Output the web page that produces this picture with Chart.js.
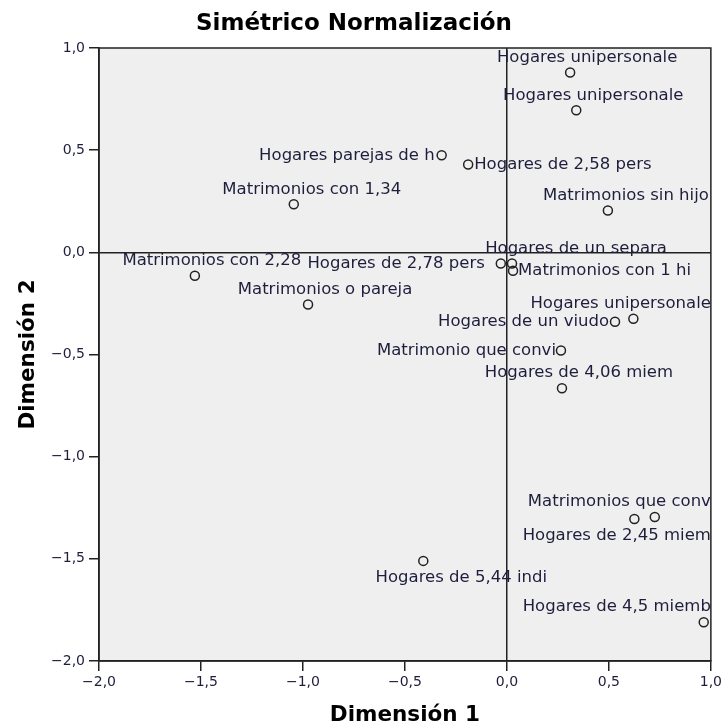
<!DOCTYPE html>
<html lang="es">
<head>
<meta charset="UTF-8">
<title>Simétrico Normalización</title>
<script src="https://cdn.jsdelivr.net/npm/chart.js"></script>
<style>
  body { margin: 0; background: #fff; }
  #wrap { width: 725px; height: 728px; }
</style>
</head>
<body>
<div id="wrap"><canvas id="grafico" width="725" height="728"></canvas></div>
<script>
// Etiquetas de las categorías (truncadas a 20 caracteres, como en el original)
const etiquetas = [
  'Hogares unipersonale', 'Hogares unipersonale', 'Hogares parejas de h', 'Hogares de 2,58 pers',
  'Matrimonios con 1,34', 'Matrimonios sin hijo', 'Hogares de un separa', 'Hogares de 2,78 pers',
  'Matrimonios con 1 hi', 'Matrimonios con 2,28', 'Matrimonios o pareja', 'Hogares unipersonale',
  'Hogares de un viudo', 'Matrimonio que convi', 'Hogares de 4,06 miem', 'Matrimonios que conv',
  'Hogares de 2,45 miem', 'Hogares de 5,44 indi', 'Hogares de 4,5 miemb'
];
const dimension1 = [0.31, 0.34, -0.32, -0.19, -1.045, 0.495, 0.025, -0.03, 0.03, -1.53, -0.975,
  0.62, 0.53, 0.265, 0.27, 0.725, 0.625, -0.41, 0.965];
const dimension2 = [0.88, 0.695, 0.475, 0.43, 0.235, 0.205, -0.055, -0.055, -0.09, -0.115, -0.255,
  -0.325, -0.34, -0.48, -0.665, -1.295, -1.305, -1.51, -1.81];
const ticksEjes = [-2, -1.5, -1, -0.5, 0, 0.5, 1];

// donde va cada etiqueta respecto a su punto (solo presentación)
const posEtiqueta = ['top', 'top', 'left', 'right', 'top', 'top', 'top', 'left', 'right', 'top', 'top',
  'top', 'left', 'left', 'top', 'top', 'bottom', 'bottom', 'top'];
const despEtiqueta = [17, 17, 7, 6, 18, 18, 64, 16, 5, 17, 17, 18, 6, 5, 17, 18, 18, 38, 18];

const colorTexto = '#1e1e3c';
const fuente = '"DejaVu Sans", sans-serif';

function formatoComa(v) {
  return v.toFixed(1).replace('.', ',').replace('-', '\u2212');
}

const fondoYMarco = {
  id: 'fondoYMarco',
  beforeDraw(chart) {
    const a = chart.chartArea, ctx = chart.ctx;
    ctx.save();
    ctx.fillStyle = '#efefef';
    ctx.fillRect(a.left, a.top, a.right - a.left, a.bottom - a.top);
    ctx.restore();
  },
  afterDraw(chart) {
    const a = chart.chartArea, ctx = chart.ctx;
    ctx.save();
    ctx.strokeStyle = '#222';
    ctx.lineWidth = 1.5;
    ctx.strokeRect(a.left, a.top, a.right - a.left, a.bottom - a.top);
    // títulos
    ctx.fillStyle = '#000';
    ctx.textAlign = 'center';
    ctx.textBaseline = 'middle';
    ctx.font = 'bold 23px ' + fuente;
    ctx.fillText('Simétrico Normalización', 354, 24);
    ctx.font = 'bold 21.5px ' + fuente;
    ctx.fillText('Dimensión 1', (a.left + a.right) / 2, 715);
    ctx.translate(28, (a.top + a.bottom) / 2);
    ctx.rotate(-Math.PI / 2);
    ctx.fillText('Dimensión 2', 0, 0);
    ctx.restore();
  },
  afterDatasetsDraw(chart) {
    const a = chart.chartArea, ctx = chart.ctx;
    const puntos = chart.getDatasetMeta(0).data;
    ctx.save();
    ctx.font = '16.5px ' + fuente;
    ctx.fillStyle = colorTexto;
    ctx.textBaseline = 'middle';
    ctx.textAlign = 'left';
    puntos.forEach((p, i) => {
      const txt = etiquetas[i];
      const w = ctx.measureText(txt).width;
      const pos = posEtiqueta[i], d = despEtiqueta[i];
      let x, y = p.y;
      if (pos === 'left') {
        x = p.x - d - w;
      } else if (pos === 'right') {
        x = p.x + d;
      } else {
        x = p.x + d - w / 2;
        y = pos === 'top' ? p.y - 15 : p.y + 17;
      }
      if (x + w > a.right) x = a.right - w;
      ctx.fillText(txt, x, y);
    });
    ctx.restore();
  }
};

const puntosDatos = dimension1.map((x, i) => ({ x: x, y: dimension2[i] }));

const opcionesEje = (eje) => ({
  type: 'linear',
  min: -2,
  max: 1,
  afterBuildTicks: (s) => { s.ticks = ticksEjes.map(v => ({ value: v })); },
  afterFit: (s) => {
    if (eje === 'x') s.height = 67; else s.width = 99;
  },
  border: { display: true, color: '#222', width: 1.5 },
  grid: {
    drawOnChartArea: true,
    color: (c) => (c.tick && c.tick.value === 0 ? '#222' : 'rgba(0,0,0,0)'),
    tickColor: '#222',
    tickLength: 10,
    lineWidth: 1.5
  },
  ticks: {
    color: colorTexto,
    font: { family: fuente, size: 14 },
    padding: eje === 'x' ? 3 : 4,
    maxRotation: 0,
    callback: (v) => formatoComa(v)
  }
});

new Chart(document.getElementById('grafico'), {
  type: 'scatter',
  data: {
    datasets: [{
      data: puntosDatos,
      pointRadius: 4.5,
      pointBorderWidth: 1.5,
      pointBorderColor: '#222',
      pointBackgroundColor: 'rgba(0,0,0,0)',
      pointHoverRadius: 4.5
    }]
  },
  options: {
    responsive: false,
    animation: false,
    devicePixelRatio: 1,
    layout: { padding: { top: 48, right: 13, left: 0, bottom: 0 } },
    plugins: { legend: { display: false }, tooltip: { enabled: false }, title: { display: false } },
    scales: {
      x: opcionesEje('x'),
      y: opcionesEje('y')
    }
  },
  plugins: [fondoYMarco]
});
</script>
</body>
</html>
